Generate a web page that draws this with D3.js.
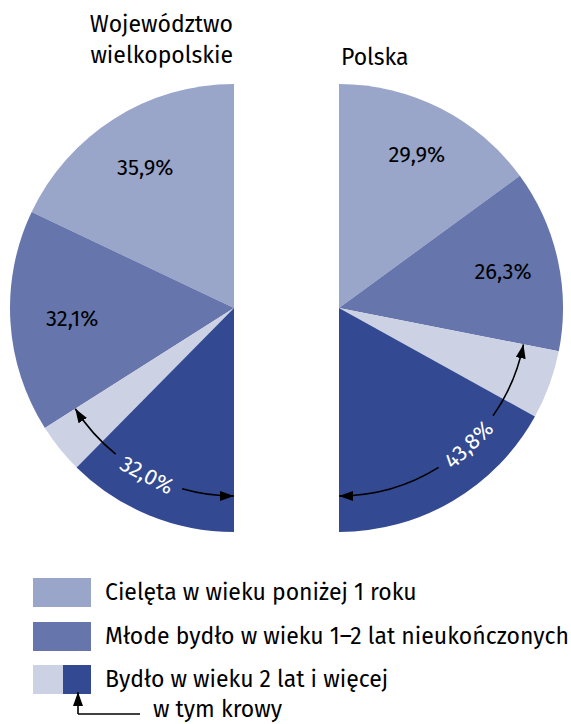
<!DOCTYPE html>
<html>
<head>
<meta charset="utf-8">
<script src="https://cdn.jsdelivr.net/npm/d3@7"></script>
<style>
  body { margin: 0; background: #fff; }
  text { font-family: "Fira Sans", "Noto Sans", sans-serif; }
</style>
</head>
<body>
<div id="chart"></div>
<script>
// shares (%), order from top of each half-circle
var categories = ["Cielęta w wieku poniżej 1 roku",
                  "Młode bydło w wieku 1–2 lat nieukończonych",
                  "Bydło w wieku 2 lat i więcej",
                  "w tym krowy"];
var wlkpValues = [35.9, 32.1, 7.2, 24.8],
    polskaValues = [29.9, 26.3, 9.9, 33.9];
var wlkpLabels = ["35,9%", "32,1%", null, "24,8%"],
    polskaLabels = ["29,9%", "26,3%", null, "33,9%"];
var wlkpTotal = "32,0%", polskaTotal = "43,8%";
var colors = ["#99a5c9", "#6676ac", "#ccd2e4", "#334a92"];

var width = 571, height = 724, r = 224;

var svg = d3.select("#chart").append("svg")
    .attr("width", width)
    .attr("height", height);

var defs = svg.append("defs");
defs.append("marker")
    .attr("id", "arrow")
    .attr("viewBox", "0 0 14 10")
    .attr("refX", 14).attr("refY", 5)
    .attr("markerWidth", 14).attr("markerHeight", 10)
    .attr("markerUnits", "userSpaceOnUse")
    .attr("orient", "auto-start-reverse")
  .append("path")
    .attr("d", "M0,0L14,5L0,10Z")
    .attr("fill", "#000");

var deg = Math.PI / 180;

function halfPie(cx, cy, values, labels, dir, labelR, labelColors) {
    // dir = -1 -> left half (counter-clockwise), 1 -> right half
    var pie = d3.pie().sort(null).value(function(d) {return d})
        .startAngle(0).endAngle(dir * Math.PI);
    var arcs = pie(values);
    var arc = d3.arc().innerRadius(0).outerRadius(r);
    var g = svg.append("g").attr("transform", "translate(" + cx + "," + cy + ")");

    g.selectAll("path")
        .data(arcs)
      .enter().append("path")
        .attr("d", arc)
        .attr("fill", function(d, i) {return colors[i]});

    g.selectAll("text.val")
        .data(arcs)
      .enter().filter(function(d, i) {return labels[i]})
      .append("text")
        .attr("class", "val")
        .attr("text-anchor", "middle")
        .attr("dy", "0.35em")
        .attr("font-size", 22)
        .attr("fill", function(d, i) {return labelColors[i]})
        .attr("transform", function(d, i) {
            var a = (d.startAngle + d.endAngle) / 2, rr = labelR[i];
            return "translate(" + (rr * Math.sin(a)) + "," + (-rr * Math.cos(a)) + ")";
        })
        .text(function(d, i) {return labels[i]});
    return {g: g, arcs: arcs};
}

// d3 angle (0 = up, clockwise) -> point
function pt(a, rr) { return [rr * Math.sin(a), -rr * Math.cos(a)]; }

function arcPath(a0, a1, rr) {
    var p = d3.path();
    var s = pt(a0, rr);
    p.moveTo(s[0], s[1]);
    p.arc(0, 0, rr, a0 - Math.PI / 2, a1 - Math.PI / 2, a1 < a0);
    return p.toString();
}

function bracket(g, a0, a1, gap0, gap1, rr, label, labelAngle) {
    g.append("path")
        .attr("d", arcPath(gap0, a0, rr))
        .attr("fill", "none").attr("stroke", "#000").attr("stroke-width", 1.6)
        .attr("marker-end", "url(#arrow)");
    g.append("path")
        .attr("d", arcPath(gap1, a1, rr))
        .attr("fill", "none").attr("stroke", "#000").attr("stroke-width", 1.6)
        .attr("marker-end", "url(#arrow)");
    var p = pt(labelAngle, rr);
    var rot = labelAngle / deg - 180;
    g.append("text")
        .attr("text-anchor", "middle")
        .attr("dy", "0.35em")
        .attr("font-size", 22)
        .attr("fill", "#fff")
        .attr("transform", "translate(" + p[0] + "," + p[1] + ") rotate(" + rot + ")")
        .text(label);
}

// left: Województwo wielkopolskie
var left = halfPie(234, 308, wlkpValues, wlkpLabels, -1,
    [166, 162, 0, 124], ["#000", "#000", "#000", "#fff"]);
var lb = left.arcs[2].startAngle;
bracket(left.g, lb, -Math.PI, -141 * deg, -164 * deg, 188, wlkpTotal, -152.5 * deg);

// right: Polska
var right = halfPie(339, 308, polskaValues, polskaLabels, 1,
    [172, 168, 0, 110], ["#000", "#000", "#000", "#fff"]);
var rb = right.arcs[2].startAngle;
bracket(right.g, rb, Math.PI, 125 * deg, 148 * deg, 188, polskaTotal, 136.5 * deg);

// titles
svg.append("text").attr("x", 233).attr("y", 32).attr("text-anchor", "end")
    .attr("font-size", 23).text("Województwo");
svg.append("text").attr("x", 233).attr("y", 63).attr("text-anchor", "end")
    .attr("font-size", 23).text("wielkopolskie");
svg.append("text").attr("x", 341).attr("y", 65)
    .attr("font-size", 23).text("Polska");

// legend
var legend = svg.append("g");
var rowY = [578, 622, 665];
categories.slice(0, 3).forEach(function(name, i) {
    if (i < 2) {
        legend.append("rect").attr("x", 33).attr("y", rowY[i])
            .attr("width", 58).attr("height", 29).attr("fill", colors[i]);
    } else {
        legend.append("rect").attr("x", 33).attr("y", rowY[i])
            .attr("width", 30).attr("height", 29).attr("fill", colors[2]);
        legend.append("rect").attr("x", 63).attr("y", rowY[i])
            .attr("width", 28).attr("height", 29).attr("fill", colors[3]);
    }
    legend.append("text").attr("x", 105).attr("y", rowY[i] + 22)
        .attr("font-size", 23).text(name);
});

legend.append("path")
    .attr("d", "M78,714V692")
    .attr("fill", "none").attr("stroke", "#000").attr("stroke-width", 1.6)
    .attr("marker-end", "url(#arrow)");
legend.append("path")
    .attr("d", "M78,714H140")
    .attr("fill", "none").attr("stroke", "#000").attr("stroke-width", 1.6);
legend.append("text").attr("x", 153).attr("y", 717)
    .attr("font-size", 23).text(categories[3]);
</script>
</body>
</html>
